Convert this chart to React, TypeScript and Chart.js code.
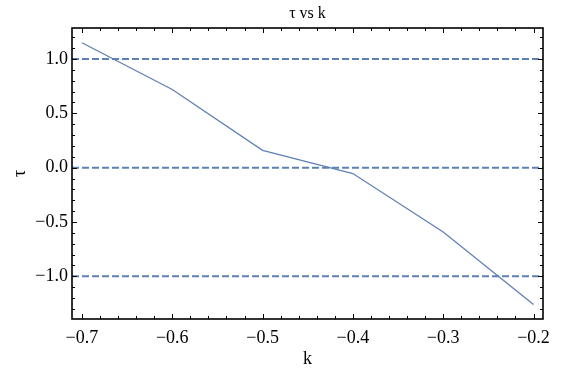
import React, { useEffect, useRef } from "react";
import { Chart, registerables } from "chart.js";

Chart.register(...registerables);

// ---- data ----
const kValues = [-0.7, -0.6, -0.5, -0.4, -0.3, -0.2];
const tauValues = [1.15, 0.72, 0.16, -0.054, -0.592, -1.26];
const referenceLevels = [1, 0, -1];
const xTickValues = [-0.7, -0.6, -0.5, -0.4, -0.3, -0.2];
const yTickValues = [-1.0, -0.5, 0.0, 0.5, 1.0];
const X_MIN = -0.711;
const X_MAX = -0.1895;
const Y_MIN = -1.393;
const Y_MAX = 1.2857;
const X_MINOR_STEP = 0.02;
const Y_MINOR_STEP = 0.1;

const LINE_COLOR = "#5E81B5";
const FONT = "'Liberation Serif', 'Times New Roman', serif";

const fmt = (v: number) => {
  const r = Math.round(v * 10) / 10;
  if (Math.abs(r) < 1e-9) return "0.0";
  return r < 0 ? "\u2212" + Math.abs(r).toFixed(1) : r.toFixed(1);
};

const framePlugin = {
  id: "mmaFrame",
  afterDatasetsDraw(chart: any) {
    const { ctx, chartArea } = chart;
    const { left, right, top, bottom } = chartArea;
    const xs = chart.scales.x;
    const ys = chart.scales.y;
    ctx.save();
    ctx.strokeStyle = "#000";
    ctx.lineWidth = 1;
    const seg = (x1: number, y1: number, x2: number, y2: number) => {
      ctx.beginPath();
      ctx.moveTo(x1, y1);
      ctx.lineTo(x2, y2);
      ctx.stroke();
    };
    const isMajor = (v: number, majors: number[]) =>
      majors.some((m) => Math.abs(m - v) < 1e-6);
    const xStart = Math.ceil(X_MIN / X_MINOR_STEP - 1e-9);
    const xEnd = Math.floor(X_MAX / X_MINOR_STEP + 1e-9);
    for (let i = xStart; i <= xEnd; i++) {
      const v = i * X_MINOR_STEP;
      const len = isMajor(v, xTickValues) ? 5 : 3;
      const px = Math.round(xs.getPixelForValue(v)) + 0.5;
      seg(px, bottom, px, bottom - len);
      seg(px, top, px, top + len);
    }
    const yStart = Math.ceil(Y_MIN / Y_MINOR_STEP - 1e-9);
    const yEnd = Math.floor(Y_MAX / Y_MINOR_STEP + 1e-9);
    for (let i = yStart; i <= yEnd; i++) {
      const v = i * Y_MINOR_STEP;
      const len = isMajor(v, yTickValues) ? 5 : 3;
      const py = Math.round(ys.getPixelForValue(v)) + 0.5;
      seg(left, py, left + len, py);
      seg(right, py, right - len, py);
    }
    ctx.lineWidth = 1.6;
    ctx.strokeRect(left, top, right - left, bottom - top);
    ctx.restore();
  },
};

export default function App() {
  const ref = useRef<HTMLCanvasElement>(null);
  useEffect(() => {
    const chart = new Chart(ref.current as HTMLCanvasElement, {
      type: "line",
      data: {
        datasets: [
          ...referenceLevels.map((level) => ({
            data: [
              { x: X_MIN, y: level },
              { x: X_MAX, y: level },
            ],
            borderColor: LINE_COLOR,
            borderWidth: 2,
            borderDash: [7, 3],
            pointRadius: 0,
          })),
          {
            data: kValues.map((k, i) => ({ x: k, y: tauValues[i] })),
            borderColor: LINE_COLOR,
            borderWidth: 1.3,
            pointRadius: 0,
            tension: 0,
          },
        ],
      },
      options: {
        animation: false,
        responsive: false,
        maintainAspectRatio: false,
        devicePixelRatio: 1,
        layout: { padding: { left: 0, right: 23, top: 0, bottom: 0 } },
        plugins: {
          legend: { display: false },
          tooltip: { enabled: false },
          title: {
            display: true,
            text: "\u03C4 vs k",
            fullSize: false,
            color: "#000",
            font: { family: FONT, size: 16, weight: "normal" },
            padding: { top: 4, bottom: 4.8 },
          },
        },
        scales: {
          x: {
            type: "linear",
            min: X_MIN,
            max: X_MAX,
            grid: { display: false, drawTicks: false },
            border: { display: false },
            afterBuildTicks: (s: any) => {
              s.ticks = xTickValues.map((v) => ({ value: v }));
            },
            afterFit: (s: any) => {
              s.height = 54;
            },
            ticks: {
              color: "#000",
              padding: 8,
              maxRotation: 0,
              autoSkip: false,
              font: { family: FONT, size: 18 },
              callback: (v: any) => fmt(Number(v)),
            },
            title: {
              display: true,
              text: "k",
              color: "#000",
              font: { family: FONT, size: 18 },
              padding: { top: 0, bottom: 3 },
            },
          },
          y: {
            type: "linear",
            min: Y_MIN,
            max: Y_MAX,
            grid: { display: false, drawTicks: false },
            border: { display: false },
            afterBuildTicks: (s: any) => {
              s.ticks = yTickValues.map((v) => ({ value: v }));
            },
            afterFit: (s: any) => {
              s.width = 72;
            },
            ticks: {
              color: "#000",
              padding: 4,
              autoSkip: false,
              font: { family: FONT, size: 18 },
              callback: (v: any) => fmt(Number(v)),
            },
            title: {
              display: true,
              text: "\u03C4",
              color: "#000",
              font: { family: FONT, size: 18 },
              padding: { top: 9, bottom: 0 },
            },
          },
        },
      },
      plugins: [framePlugin],
    } as any);
    return () => chart.destroy();
  }, []);
  return (
    <div
      style={{
        position: "absolute",
        left: 0,
        top: 0,
        width: 566,
        height: 373,
        background: "#fff",
      }}
    >
      <canvas ref={ref} width={566} height={373} style={{ display: "block" }} />
    </div>
  );
}
